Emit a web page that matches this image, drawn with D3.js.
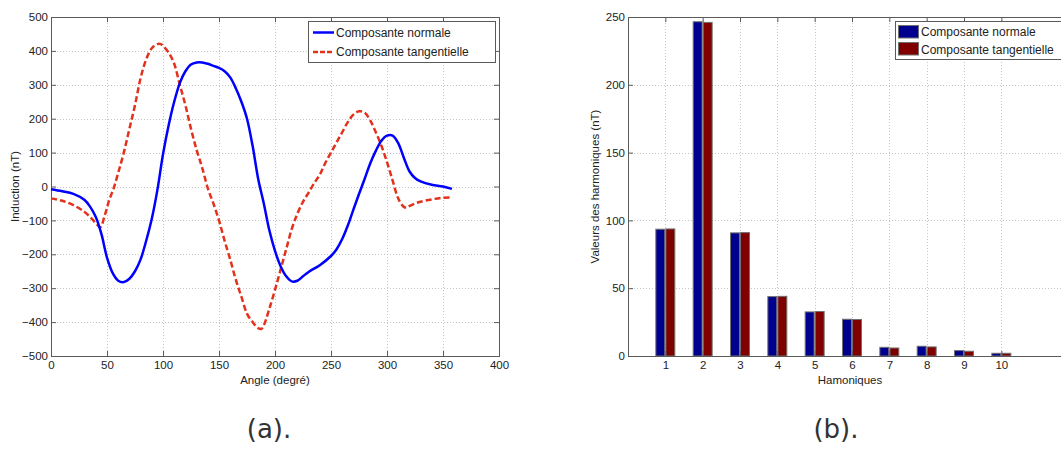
<!DOCTYPE html>
<html><head><meta charset="utf-8">
<script src="https://cdn.jsdelivr.net/npm/d3@7"></script>
<style>
body{margin:0;background:#fff;}
svg{display:block;}
text{font-family:"Liberation Sans",Arial,Helvetica,sans-serif;}
</style></head>
<body><svg id="c" width="1061" height="451"></svg>
<script>
// ---- Data (a) ----
const angles = [0,10,20,30,35,40,44,48,52,56,60,65,70,75,80,85,90,95,98,100,105,110,115,120,125,130,135,140,145,150,155,160,165,170,175,180,185,188,190,195,200,205,210,215,220,225,230,235,240,245,250,255,260,265,270,275,280,285,290,295,300,305,310,315,318,320,325,330,340,350,358];
const normalAngles = [0,10,20,30,35,40,45,50,55,60,65,70,75,80,85,90,95,100,105,110,115,120,125,130,135,140,145,150,155,160,165,170,175,180,185,190,195,200,205,210,215,220,225,230,240,250,255,260,265,270,275,280,285,290,295,300,305,310,315,320,325,330,340,350,358];
const normalValues = [-8,-14,-22,-40,-60,-90,-140,-210,-255,-278,-282,-272,-250,-215,-160,-95,-10,95,180,250,305,340,360,366,366,362,356,350,340,322,290,250,200,120,22,-50,-130,-190,-235,-265,-280,-278,-265,-252,-232,-205,-185,-155,-115,-68,-22,22,68,105,135,150,150,128,85,45,25,15,5,0,-7];
const tangentValues = [-35,-42,-55,-75,-90,-108,-120,-85,-40,-5,40,100,170,240,320,375,408,420,420,415,395,362,300,240,170,108,55,-5,-50,-100,-160,-215,-275,-325,-375,-400,-418,-420,-410,-360,-305,-245,-185,-125,-80,-45,-18,10,35,70,100,130,160,190,212,222,218,195,160,120,72,18,-35,-60,-62,-58,-50,-45,-38,-33,-32];
const xTicksA = [0,50,100,150,200,250,300,350,400];
const yTicksA = [-500,-400,-300,-200,-100,0,100,200,300,400,500];
const seriesNames = ["Composante normale","Composante tangentielle"];

// ---- Data (b) ----
const harmonics = [1,2,3,4,5,6,7,8,9,10];
const harmNormal = [93.5,246.5,90.8,43.8,32.5,27.1,6.4,7.2,4.0,2.0];
const harmTangent = [93.7,246,91,44,32.8,26.9,5.9,6.7,3.5,2.0];
const yTicksB = [0,50,100,150,200,250];

const svg = d3.select("#c");
svg.append("rect").attr("width",1061).attr("height",451).attr("fill","#fff");

const gridColor = "#c4c4c4", axisColor = "#5a5a5a", fs = 11.5;

// ================= Chart (a) =================
{
  const L=51, R=499, T=17, B=356;
  const x = d3.scaleLinear().domain([0,400]).range([L,R]);
  const y = d3.scaleLinear().domain([-500,500]).range([B,T]);
  const g = svg.append("g");
  // grid
  g.selectAll(".gx").data(xTicksA.slice(1,-1)).join("line")
    .attr("x1",d=>x(d)+0.5).attr("x2",d=>x(d)+0.5).attr("y1",T).attr("y2",B)
    .attr("stroke",gridColor).attr("stroke-dasharray","1,2");
  g.selectAll(".gy").data(yTicksA.slice(1,-1)).join("line")
    .attr("y1",d=>Math.round(y(d))+0.5).attr("y2",d=>Math.round(y(d))+0.5).attr("x1",L).attr("x2",R)
    .attr("stroke",gridColor).attr("stroke-dasharray","1,2");
  // axes
  const ax = d3.axisBottom(x).tickValues(xTicksA).tickSize(-5).tickPadding(5);
  const ay = d3.axisLeft(y).tickValues(yTicksA).tickSize(-5).tickPadding(3);
  const axT = d3.axisTop(x).tickValues(xTicksA).tickSize(-5).tickFormat("");
  const ayR = d3.axisRight(y).tickValues(yTicksA).tickSize(-5).tickFormat("");
  [[ax,`translate(0,${B})`],[ay,`translate(${L},0)`],[axT,`translate(0,${T})`],[ayR,`translate(${R},0)`]].forEach(([a,t])=>{
    const gg=g.append("g").attr("transform",t).call(a);
    gg.select(".domain").attr("stroke",axisColor);
    gg.selectAll(".tick line").attr("stroke",axisColor);
    gg.selectAll("text").attr("font-size",fs).attr("fill","#222").style("font-family",'"Liberation Sans",Arial,sans-serif');
  });
  // lines
  const line = d3.line().curve(d3.curveCatmullRom.alpha(0.5));
  g.append("path").attr("d",line(angles.map((a,i)=>[x(a),y(tangentValues[i])])))
    .attr("fill","none").attr("stroke","#e2321c").attr("stroke-width",2.5).attr("stroke-dasharray","6,3");
  g.append("path").attr("d",line(normalAngles.map((a,i)=>[x(a),y(normalValues[i])])))
    .attr("fill","none").attr("stroke","#0000ff").attr("stroke-width",2.5);
  // labels
  g.append("text").attr("x",(L+R)/2).attr("y",384).attr("text-anchor","middle").attr("font-size",fs).attr("fill","#222").text("Angle (degré)");
  g.append("text").attr("transform",`translate(19,${(T+B)/2}) rotate(-90)`).attr("text-anchor","middle").attr("font-size",fs).attr("fill","#222").text("Induction (nT)");
  // legend
  const lg = g.append("g");
  lg.append("rect").attr("x",308.5).attr("y",21.5).attr("width",187).attr("height",41).attr("fill","#fff").attr("stroke",axisColor);
  lg.append("line").attr("x1",313).attr("x2",334).attr("y1",32.5).attr("y2",32.5).attr("stroke","#0000ff").attr("stroke-width",2.5);
  lg.append("line").attr("x1",313).attr("x2",334).attr("y1",52).attr("y2",52).attr("stroke","#e2321c").attr("stroke-width",2.5).attr("stroke-dasharray","5,2");
  lg.selectAll(".lt").data(seriesNames).join("text").attr("x",336).attr("y",(d,i)=>36.5+i*19.5).attr("font-size",fs+0.5).attr("fill","#222").text(d=>d);
}

// ================= Chart (b) =================
{
  const L=628, R=1076, T=17, B=356;
  const x = d3.scaleLinear().domain([0,12]).range([L,R]);
  const y = d3.scaleLinear().domain([0,250]).range([B,T]);
  const g = svg.append("g");
  g.selectAll(".gx").data(harmonics).join("line")
    .attr("x1",d=>Math.round(x(d))+0.5).attr("x2",d=>Math.round(x(d))+0.5).attr("y1",T).attr("y2",B)
    .attr("stroke",gridColor).attr("stroke-dasharray","1,2");
  g.selectAll(".gy").data(yTicksB.slice(1,-1)).join("line")
    .attr("y1",d=>Math.round(y(d))+0.5).attr("y2",d=>Math.round(y(d))+0.5).attr("x1",L).attr("x2",R)
    .attr("stroke",gridColor).attr("stroke-dasharray","1,2");
  const bw = 0.24, off = 0.134;
  const drawBars=(vals,dx,col)=>g.append("g").selectAll("rect").data(harmonics).join("rect")
    .attr("x",(d,i)=>x(d+dx-bw/2)).attr("width",x(bw)-x(0))
    .attr("y",(d,i)=>y(vals[i])).attr("height",(d,i)=>y(0)-y(vals[i]))
    .attr("fill",col).attr("stroke","#707070").attr("stroke-width",1);
  drawBars(harmNormal,-off,"#00008f");
  drawBars(harmTangent,off,"#800000");
  const ax = d3.axisBottom(x).tickValues(harmonics).tickSize(-5).tickPadding(5);
  const ay = d3.axisLeft(y).tickValues(yTicksB).tickSize(-5).tickPadding(3);
  const axT = d3.axisTop(x).tickValues(harmonics).tickSize(-5).tickFormat("");
  [[ax,`translate(0,${B})`],[ay,`translate(${L},0)`],[axT,`translate(0,${T})`]].forEach(([a,t])=>{
    const gg=g.append("g").attr("transform",t).call(a);
    gg.select(".domain").attr("stroke",axisColor);
    gg.selectAll(".tick line").attr("stroke",axisColor);
    gg.selectAll("text").attr("font-size",fs).attr("fill","#222").style("font-family",'"Liberation Sans",Arial,sans-serif');
  });
  g.append("text").attr("x",850).attr("y",384).attr("text-anchor","middle").attr("font-size",fs).attr("fill","#222").text("Hamoniques");
  g.append("text").attr("transform",`translate(599,${(T+B)/2}) rotate(-90)`).attr("text-anchor","middle").attr("font-size",fs).attr("fill","#222").text("Valeurs des harmoniques (nT)");
  const lg = g.append("g");
  lg.append("rect").attr("x",895.5).attr("y",21.5).attr("width",175).attr("height",38).attr("fill","#fff").attr("stroke",axisColor);
  lg.append("rect").attr("x",898.5).attr("y",25.5).attr("width",20).attr("height",12.5).attr("fill","#00008f").attr("stroke","#707070");
  lg.append("rect").attr("x",898.5).attr("y",42.5).attr("width",20).attr("height",12.5).attr("fill","#800000").attr("stroke","#707070");
  lg.selectAll(".lt").data(seriesNames).join("text").attr("x",921).attr("y",(d,i)=>36+i*17.5).attr("font-size",fs+0.5).attr("fill","#222").text(d=>d);
}

// captions
svg.append("text").attr("x",269).attr("y",438).attr("text-anchor","middle").attr("font-size",26).attr("fill","#333").style("font-family",'"DejaVu Sans",Verdana,sans-serif').text("(a).");
svg.append("text").attr("x",836).attr("y",438).attr("text-anchor","middle").attr("font-size",26).attr("fill","#333").style("font-family",'"DejaVu Sans",Verdana,sans-serif').text("(b).");
</script></body></html>
